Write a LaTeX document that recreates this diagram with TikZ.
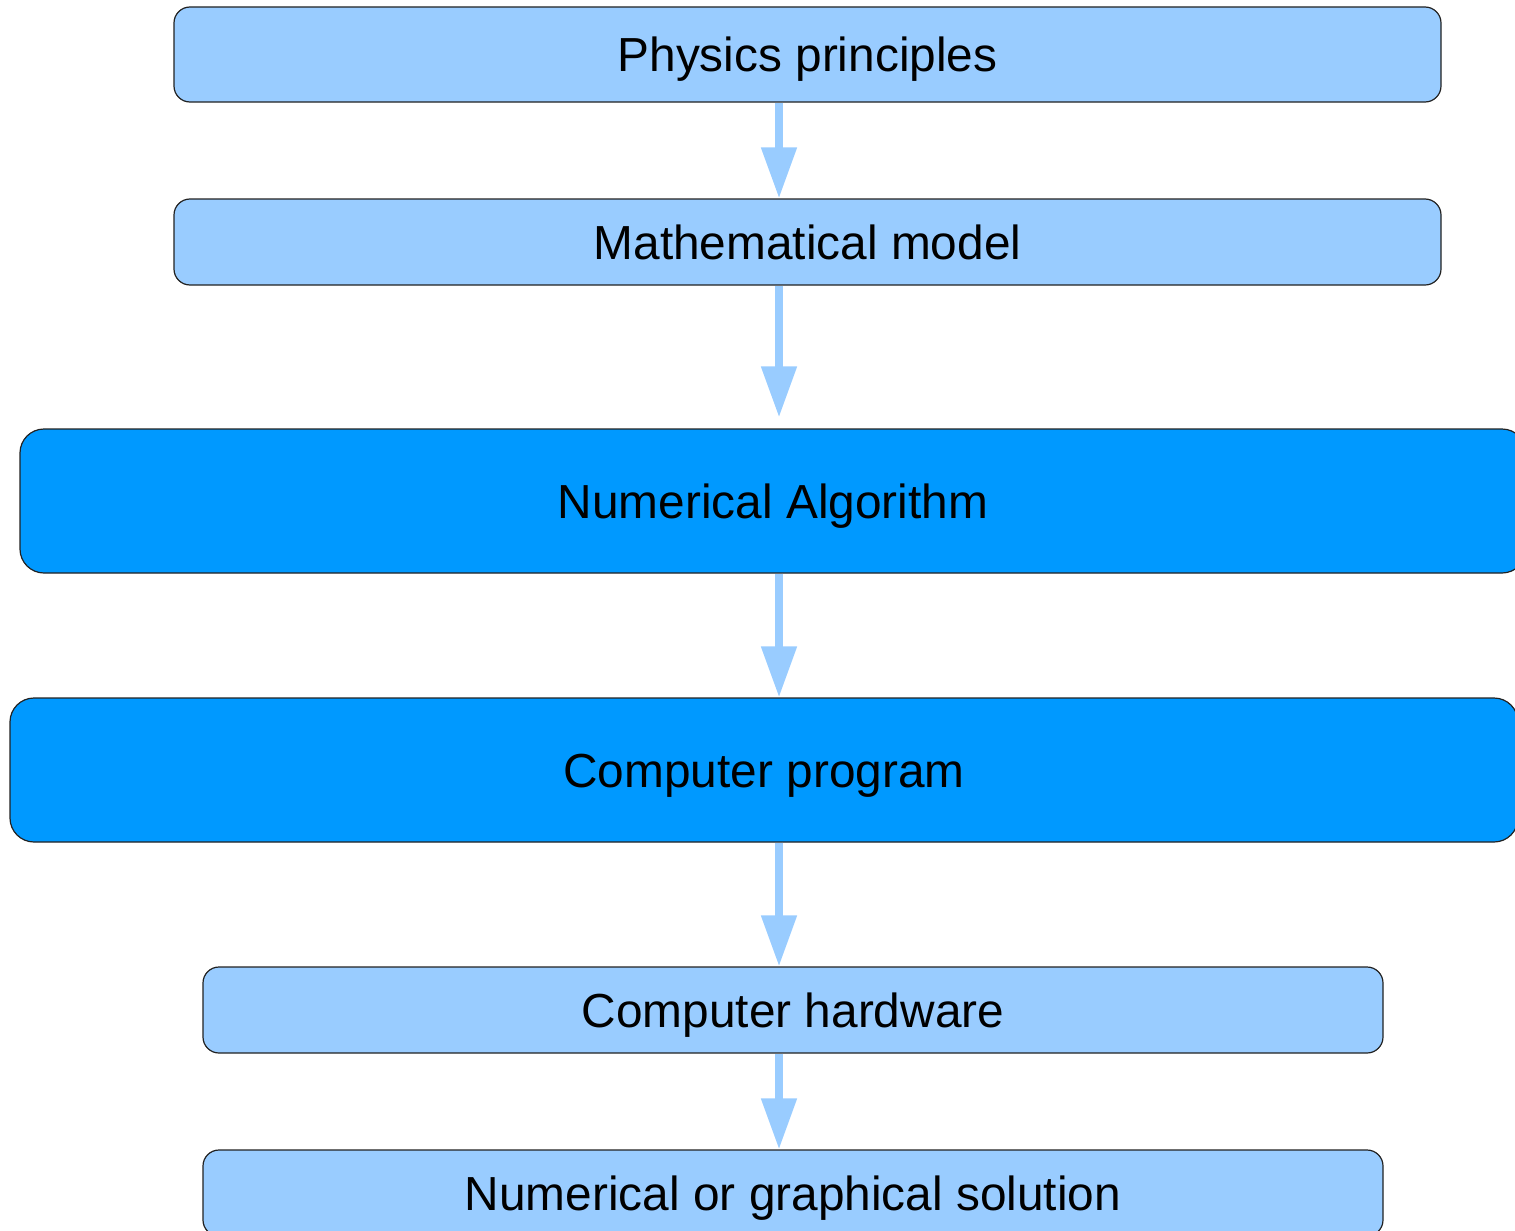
\documentclass[tikz,border=0pt]{standalone}
\usepackage{fontspec}
\setmainfont{Liberation Sans}
\usetikzlibrary{arrows.meta}
\definecolor{lightbox}{HTML}{99CCFF}
\definecolor{darkbox}{HTML}{0099FF}
\definecolor{edge}{HTML}{222222}
\begin{document}
\begin{tikzpicture}[x=1pt,y=-1pt,
  box/.style={draw=edge, line width=1.2pt, rounded corners=16pt, inner sep=0pt,
    text height=34pt, text depth=0pt,
    font=\fontsize{47.8}{57}\selectfont, text=black},
  lightstep/.style={box, fill=lightbox},
  darkstep/.style={box, fill=darkbox, rounded corners=24pt},
  arr/.style={draw=lightbox, line width=8pt,
    -{Triangle[length=51pt,width=34pt]}}]
\useasboundingbox (0,0) rectangle (1515,1231);
\clip (0,0) rectangle (1515,1231);
\node[lightstep, minimum width=1267pt, minimum height=95pt] (p) at (807.5,54.5) {Physics principles};
\node[lightstep, minimum width=1267pt, minimum height=86pt] (m) at (807.5,242) {Mathematical model};
\node[darkstep, minimum width=1506pt, minimum height=144pt] (n) at (773,501) {Numerical Algorithm};
\node[darkstep, minimum width=1508pt, minimum height=144pt] (c) at (764,770) {Computer program};
\node[lightstep, minimum width=1180pt, minimum height=86pt] (h) at (793,1010) {Computer hardware};
\node[lightstep, minimum width=1180pt, minimum height=86pt] (s) at (793,1193) {Numerical or graphical solution};
\coordinate (ax) at (779,0);
\draw[arr] (p.south -| ax) -- (m.north -| ax);
\draw[arr, shorten >=11pt] (m.south -| ax) -- (n.north -| ax);
\draw[arr] (n.south -| ax) -- (c.north -| ax);
\draw[arr] (c.south -| ax) -- (h.north -| ax);
\draw[arr] (h.south -| ax) -- (s.north -| ax);
\end{tikzpicture}
\end{document}
